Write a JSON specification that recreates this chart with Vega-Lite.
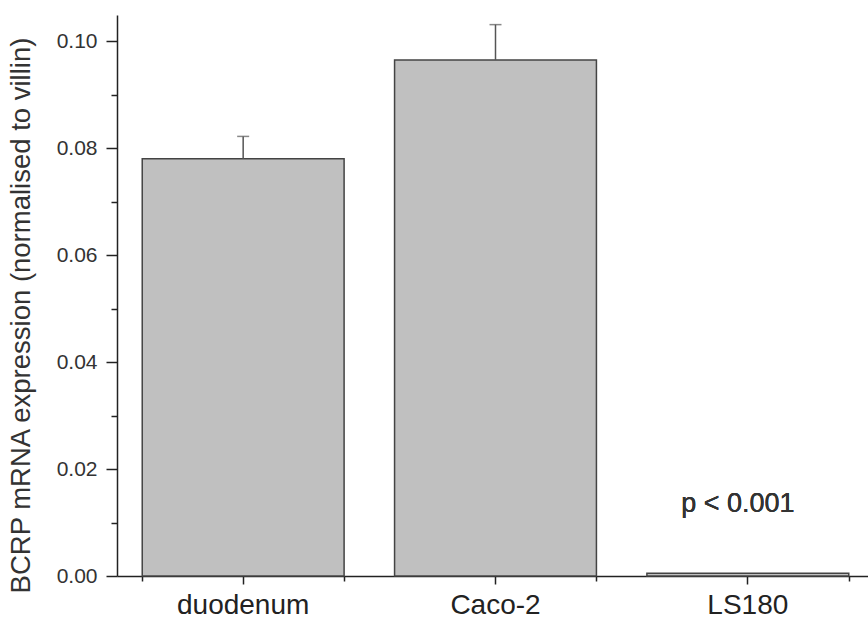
{
  "$schema": "https://vega.github.io/schema/vega-lite/v6.json",
  "autosize": "none",
  "padding": {"left": 117, "top": 15, "right": 0, "bottom": 47},
  "width": 757,
  "height": 561,
  "background": "white",
  "config": {
    "view": {"stroke": null},
    "font": "Liberation Sans",
    "axis": {"grid": false, "domainColor": "#222", "tickColor": "#222", "domainWidth": 1.5, "tickWidth": 1.5, "labelColor": "#333", "titleColor": "#333", "labelFont": "Liberation Sans", "titleFont": "Liberation Sans"}
  },
  "data": {
    "values": [
      {"tissue": "duodenum", "expr": 0.078, "upper": 0.0822},
      {"tissue": "Caco-2", "expr": 0.0965, "upper": 0.1031},
      {"tissue": "LS180", "expr": 0.0005, "upper": null}
    ]
  },
  "resolve": {"axis": {"x": "independent", "y": "independent"}},
  "layer": [
    {
      "mark": {"type": "bar", "fill": "#c0c0c0", "stroke": "#444", "strokeWidth": 1.5},
      "encoding": {
        "x": {"field": "tissue", "type": "nominal", "sort": null,
              "scale": {"paddingInner": 0.2, "paddingOuter": 0.1},
              "axis": {"title": null, "labelAngle": 0, "labelFontSize": 28, "labelPadding": 7, "tickSize": 8, "labelColor": "#222"}},
        "y": {"field": "expr", "type": "quantitative",
              "scale": {"domain": [0, 0.1049], "nice": false},
              "axis": {"title": "BCRP mRNA expression (normalised to villin)", "titleFontSize": 27.5, "titleFontWeight": "normal", "titlePadding": 21, "titleY": 300,
                       "values": [0, 0.02, 0.04, 0.06, 0.08, 0.1], "format": ".2f", "labelFontSize": 21, "tickSize": 11, "labelPadding": 9}}
      }
    },
    {
      "mark": {"type": "rule", "color": "#555", "strokeWidth": 1.5},
      "encoding": {
        "x": {"field": "tissue", "type": "nominal", "sort": null,
              "axis": {"orient": "bottom", "tickBand": "extent", "labels": false, "domain": false, "tickSize": 5, "title": null}},
        "y": {"field": "expr", "type": "quantitative",
              "axis": {"orient": "left", "values": [0.01, 0.03, 0.05, 0.07, 0.09], "labels": false, "domain": false, "tickSize": 6, "title": null}},
        "y2": {"field": "upper"}
      }
    },
    {
      "mark": {"type": "tick", "color": "#555", "thickness": 1.5, "size": 12},
      "encoding": {
        "x": {"field": "tissue", "type": "nominal", "sort": null, "axis": null},
        "y": {"field": "upper", "type": "quantitative", "axis": null}
      }
    },
    {
      "mark": {"type": "text", "fontSize": 27, "fontWeight": "normal", "color": "#333", "font": "Liberation Sans", "dx": -10},
      "encoding": {
        "x": {"datum": "LS180", "type": "nominal", "axis": null},
        "y": {"datum": 0.0135, "type": "quantitative", "axis": null},
        "text": {"value": "p < 0.001"}
      }
    }
  ]
}
